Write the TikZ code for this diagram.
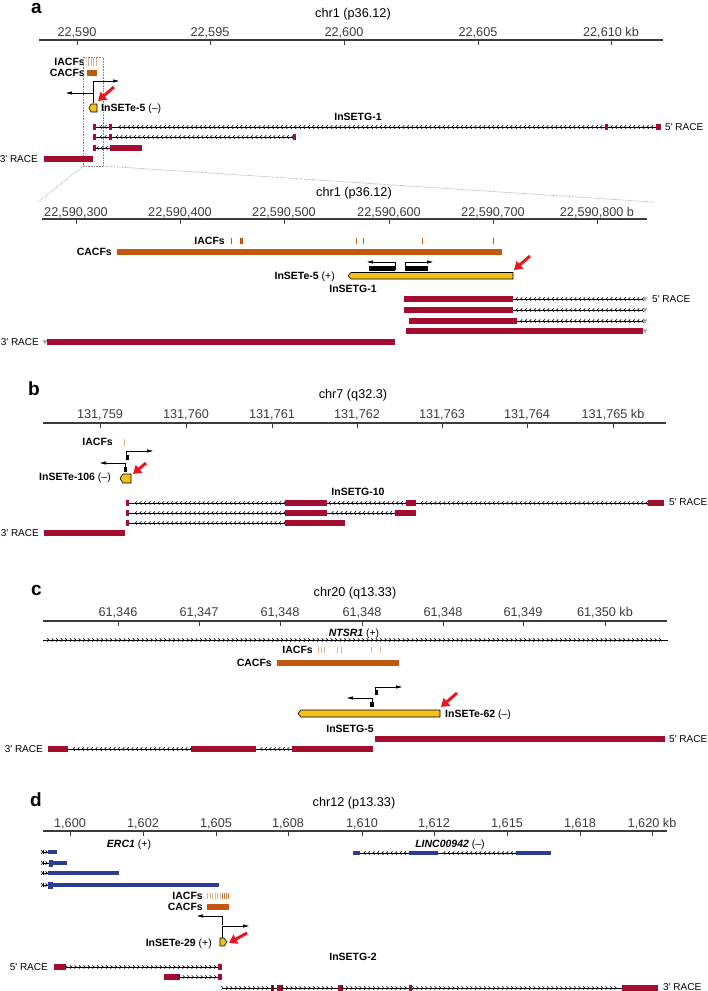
\documentclass[tikz,border=0pt]{standalone}
\usepackage{fontspec}
\setmainfont{Liberation Sans}
\usetikzlibrary{arrows.meta,decorations.markings}
\definecolor{axisgray}{RGB}{60,60,60}
\definecolor{race}{RGB}{163,14,48}
\definecolor{cacf}{RGB}{194,88,14}
\definecolor{iacf}{RGB}{224,178,132}
\definecolor{insete}{RGB}{242,193,30}
\definecolor{refseq}{RGB}{44,60,148}
\definecolor{hit}{RGB}{232,22,30}
\newcommand{\exon}[4][race]{\fill[#1] (#2,#4-3) rectangle (#3,#4+3);}
\newcommand{\rsq}[3]{\fill[refseq] (#1,#3-2) rectangle (#2,#3+2);}
\newcommand{\intron}[3]{\draw[intron] (#1,#3) -- (#2,#3);}
\newcommand{\squig}[2]{\draw[gray,line width=0.5pt] (#1,#2) -- ++(1,-2) -- ++(1,4) -- ++(1,-4) -- ++(1,2);}
\newcommand{\fp}{5\textquotesingle{} RACE}
\newcommand{\tp}{3\textquotesingle{} RACE}
\tikzset{
  panel/.style={font=\fontsize{19}{19}\selectfont\bfseries,inner sep=0pt},
  chrom/.style={font=\fontsize{12.7}{13}\selectfont,inner sep=0pt,anchor=base},
  ticklab/.style={font=\fontsize{12.7}{13}\selectfont,inner sep=0pt,anchor=base},
  lab/.style={font=\fontsize{10.5}{10.5}\selectfont\bfseries,inner sep=0pt},
  racelab/.style={font=\fontsize{10}{10}\selectfont,inner sep=0pt},
  axisline/.style={axisgray,line width=1.2pt},
  axistick/.style={axisgray,line width=1pt},
  intron/.style={line width=0.6pt,postaction={decorate},
    decoration={markings,mark=between positions 0.01 and 0.99 step 4.5pt with {\arrow{Straight Barb[length=1.6pt,width=3.4pt]}}}},
  tss/.style={line width=0.7pt,-{Triangle[length=6pt,width=3pt]}},
  hitarrow/.style={hit,line width=3pt,-{Triangle[length=8pt,width=10pt]}},
  zoomline/.style={gray,densely dotted,line width=0.6pt},
  tepath/.style={fill=insete,draw=black,line width=0.6pt}
}
\begin{document}
\begin{tikzpicture}[x=1pt,y=-1pt]
 \fill[white] (0,0) rectangle (708,991);
 \useasboundingbox (0,0) rectangle (708,991);
 % panel a
 \node[panel,anchor=base west] (pa) at (31,13) {a};
 \node[chrom] (chra) at (353,17.5) {chr1 (p36.12)};
 \draw[axisline] (39,40) -- (663,40);
 \foreach \x/\t in {77/{22,590},210/{22,595},344/{22,600},478/{22,605},611/{22,610 kb}}
   \draw[axistick] (\x,40) -- (\x,44.5) (\x,36) node[ticklab] (ta-\x) {\t};
 \node[lab,anchor=base east] (iacfa) at (85,65.5) {IACFs};
 \foreach \x in {88.5,91,93.5,96}
   \draw[iacf,line width=0.7pt] (\x,58) -- (\x,66);
 \node[lab,anchor=base east] (cacfa) at (85,76.5) {CACFs};
 \fill[cacf] (87,70) rectangle (97,76);
 \draw[zoomline] (83,57) rectangle (103,166);
 \draw[zoomline] (83,166) -- (38,202);
 \draw[zoomline] (103,166) -- (653,202);
 \draw[tss] (93,103) -- (93,81) -- (119,81);
 \draw[tss] (93,93) -- (66,93);
 \draw[tepath] (97,104) -- (91,104) -- (89,108) -- (91,112) -- (97,112) -- cycle;
 \draw[hitarrow] (114,87) -- (98,101);
 \node[lab,anchor=base west] (tea) at (101,111.5) {InSETe-5 \textmd{(--)}};
 \node[lab,anchor=base] (ga) at (358,120.5) {InSETG-1};
 \exon{93}{96}{127} \intron{109}{96}{127} \exon{109}{112}{127} \intron{605}{112}{127}
 \exon{605}{608}{127} \intron{656}{608}{127} \exon{656}{661}{127}
 \exon{93}{96}{137} \intron{109}{96}{137} \exon{109}{112}{137} \intron{293}{112}{137} \exon{293}{296}{137}
 \exon{93}{96}{148} \intron{110}{96}{148} \exon{110}{142}{148}
 \exon{44}{93}{159}
 \node[racelab,anchor=base west] (r5a) at (665,130.5) {\fp};
 \node[racelab,anchor=base east] (r3a) at (38,162.5) {\tp};
 % panel a, zoom
 \node[chrom] (chrz) at (354,196) {chr1 (p36.12)};
 \draw[axisline] (42,219) -- (647,219);
 \foreach \x/\t in {76/{22,590,300},180/{22,590,400},284/{22,590,500},389/{22,590,600},493/{22,590,700},597/{22,590,800 b}}
   \draw[axistick] (\x,219) -- (\x,223.5) (\x,216) node[ticklab] (tz-\x) {\t};
 \node[lab,anchor=base east] (iacfz) at (225,244.5) {IACFs};
 \foreach \x in {231,356,363,422,493}
   \draw[cacf,line width=1pt] (\x,238) -- (\x,244);
 \fill[cacf] (239.5,238) rectangle (242.5,244);
 \node[lab,anchor=base east] (cacfz) at (112,255.5) {CACFs};
 \fill[cacf] (117,249) rectangle (502,255);
 \fill (369,265.5) rectangle (395,270.5);
 \fill (405,265.5) rectangle (428,270.5);
 \draw[tss] (395,270) -- (395,262) -- (367,262);
 \draw[tss] (405,270) -- (405,262) -- (433,262);
 \draw[tepath] (513,272.5) -- (351,272.5) -- (348,275.75) -- (351,279) -- (513,279) -- cycle;
 \draw[hitarrow] (530,256) -- (514,270);
 \node[lab,anchor=base east] (tez) at (335,279) {InSETe-5 \textmd{(+)}};
 \node[lab,anchor=base] (gz) at (353,292) {InSETG-1};
 \exon{404}{513}{299} \intron{643}{513}{299} \squig{643}{299}
 \exon{404}{513}{310} \intron{643}{513}{310} \squig{643}{310}
 \exon{409}{517}{321} \intron{643}{517}{321} \squig{643}{321}
 \exon{406}{643}{331} \squig{643}{331}
 \squig{43}{342} \exon{47}{395}{342}
 \node[racelab,anchor=base west] (r5z) at (652,302.5) {\fp};
 \node[racelab,anchor=base east] (r3z) at (39,345.5) {\tp};
 % panel b
 \node[panel,anchor=base west] (pb) at (28,395) {b};
 \node[chrom] (chrb) at (353,398) {chr7 (q32.3)};
 \draw[axisline] (43,423) -- (666,423);
 \foreach \x/\t in {100/{131,759},186/{131,760},272/{131,761},357/{131,762},442/{131,763},527/{131,764},613/{131,765 kb}}
   \draw[axistick] (\x,423) -- (\x,427.5) (\x,418) node[ticklab] (tb-\x) {\t};
 \node[lab,anchor=base east] (iacfb) at (113,445.5) {IACFs};
 \draw[iacf,line width=0.7pt] (124,439) -- (124,446);
 \draw[tss] (126.5,460) -- (126.5,451) -- (153,451);
 \fill (125.5,455) rectangle (128.5,460);
 \draw[tss] (125,472) -- (125,463) -- (100,463);
 \fill (123.5,467) rectangle (126.5,472);
 \draw[tepath] (131,474) -- (123,474) -- (120,478.5) -- (123,483) -- (131,483) -- cycle;
 \draw[hitarrow] (146,463) -- (133,474);
 \node[lab,anchor=base east] (teb) at (111,480.5) {InSETe-106 \textmd{(--)}};
 \node[lab,anchor=base] (gb) at (358,495.5) {InSETG-10};
 \exon{126}{129}{503} \intron{285}{129}{503} \exon{285}{327}{503} \intron{406}{327}{503}
 \exon{406}{416}{503} \intron{648}{416}{503} \exon{648}{664}{503}
 \exon{126}{129}{513} \intron{285}{129}{513} \exon{285}{327}{513} \intron{395}{327}{513} \exon{395}{416}{513}
 \exon{126}{129}{523} \intron{285}{129}{523} \exon{285}{345}{523}
 \exon{44}{125}{533}
 \node[racelab,anchor=base west] (r5b) at (669,505.5) {\fp};
 \node[racelab,anchor=base east] (r3b) at (39,536.5) {\tp};
 % panel c
 \node[panel,anchor=base west] (pc) at (31,595) {c};
 \node[chrom] (chrc) at (355,596) {chr20 (q13.33)};
 \draw[axisline] (43,621) -- (667,621);
 \foreach \x/\t in {118/{61,346},199/{61,347},280/{61,348},362/{61,348},443/{61,348},523/{61,349},605/{61,350 kb}}
   \draw[axistick] (\x,621) -- (\x,625.5) (\x,616) node[ticklab] (tc-\x) {\t};
 \intron{43}{668}{640}
 \node[lab,anchor=base] (ntsr) at (354,636) {\textit{NTSR1} \textmd{(+)}};
 \node[lab,anchor=base east] (iacfc) at (313,653) {IACFs};
 \foreach \x in {318,321,324,337,341,371,380}
   \draw[iacf,line width=0.7pt] (\x,647) -- (\x,652.5);
 \node[lab,anchor=base east] (cacfc) at (272,666.5) {CACFs};
 \fill[cacf] (277,660) rectangle (399,666);
 \draw[tss] (375.5,695) -- (375.5,687) -- (402,687);
 \fill (375,690) rectangle (378,695);
 \draw[tss] (372,707) -- (372,698) -- (347,698);
 \fill (370,702) rectangle (373.5,707);
 \draw[tepath] (440,710) -- (301,710) -- (298,713.5) -- (301,717) -- (440,717) -- cycle;
 \draw[hitarrow] (457,693) -- (441,707);
 \node[lab,anchor=base west] (tec) at (445,717.5) {InSETe-62 \textmd{(--)}};
 \node[lab,anchor=base] (gc) at (350,732.5) {InSETG-5};
 \exon{375}{665}{739}
 \exon{48}{68}{749} \intron{191}{68}{749} \exon{191}{256}{749} \intron{292}{256}{749} \exon{292}{373}{749}
 \node[racelab,anchor=base west] (r5c) at (669,742.5) {\fp};
 \node[racelab,anchor=base east] (r3c) at (43,752.5) {\tp};
 % panel d
 \node[panel,anchor=base west] (pd) at (30,806.5) {d};
 \node[chrom] (chrd) at (354,806) {chr12 (p13.33)};
 \draw[axisline] (43,831) -- (667,831);
 \foreach \x/\t in {70/{1,600},143/{1,602},216/{1,605},288/{1,608},362/{1,610},434/{1,612},507/{1,615},580/{1,618},652/{1,620 kb}}
   \draw[axistick] (\x,831) -- (\x,835.5) (\x,827) node[ticklab] (td-\x) {\t};
 \node[lab,anchor=base] (erc) at (129,847.5) {\textit{ERC1} \textmd{(+)}};
 \node[lab,anchor=base] (linc) at (450,847.5) {\textit{LINC00942} \textmd{(--)}};
 \foreach \y in {852,863,873,885}
   \draw[line width=0.6pt] (43,\y-2) -- (43,\y+2);
 \intron{43}{48}{852} \rsq{48}{57}{852}
 \intron{43}{49}{863} \fill[refseq] (49,859.5) rectangle (53,866.5); \rsq{53}{67}{863}
 \intron{43}{48}{873} \rsq{48}{119}{873}
 \intron{43}{48}{885} \fill[refseq] (48,881.5) rectangle (53,888.5); \rsq{53}{219}{885}
 \rsq{353}{360}{853} \intron{409}{360}{853} \rsq{409}{438}{853} \intron{516}{438}{853} \rsq{516}{551}{853}
 \node[lab,anchor=base east] (iacfd) at (203,899.5) {IACFs};
 \foreach \x in {207.5,210,212.5,215,217.5,220}
   \draw[iacf,line width=0.7pt] (\x,893) -- (\x,898.5);
 \foreach \x in {222.5,224.5,226.5,228}
   \draw[cacf!80,line width=0.7pt] (\x,893) -- (\x,898.5);
 \node[lab,anchor=base east] (cacfd) at (203,910.5) {CACFs};
 \fill[cacf] (207,904) rectangle (229,910);
 \draw[tss] (222,925) -- (222,916) -- (197,916);
 \draw[tss] (222,938) -- (222,926) -- (249,926);
 \draw[tepath] (220,938) -- (224,938) -- (227,942) -- (224,946) -- (220,946) -- cycle;
 \draw[hitarrow] (247,933) -- (229,943);
 \node[lab,anchor=base east] (ted) at (212,946.5) {InSETe-29 \textmd{(+)}};
 \node[lab,anchor=base] (gd) at (353,960.5) {InSETG-2};
 \exon{54}{66}{967} \intron{66}{218}{967} \exon{218}{222}{967}
 \exon{164}{180}{977} \intron{180}{218}{977} \exon{218}{222}{977}
 \intron{223}{271}{988} \exon{271}{274}{988} \intron{274}{277}{988} \exon{277}{283}{988}
 \intron{283}{338}{988} \exon{338}{343}{988} \intron{343}{409}{988} \exon{409}{412}{988}
 \intron{412}{622}{988} \exon{622}{658}{988}
 \node[racelab,anchor=base east] (r5d) at (48,970.5) {\fp};
 \node[racelab,anchor=base west] (r3d) at (663,990.5) {\tp};
\end{tikzpicture}
\end{document}
